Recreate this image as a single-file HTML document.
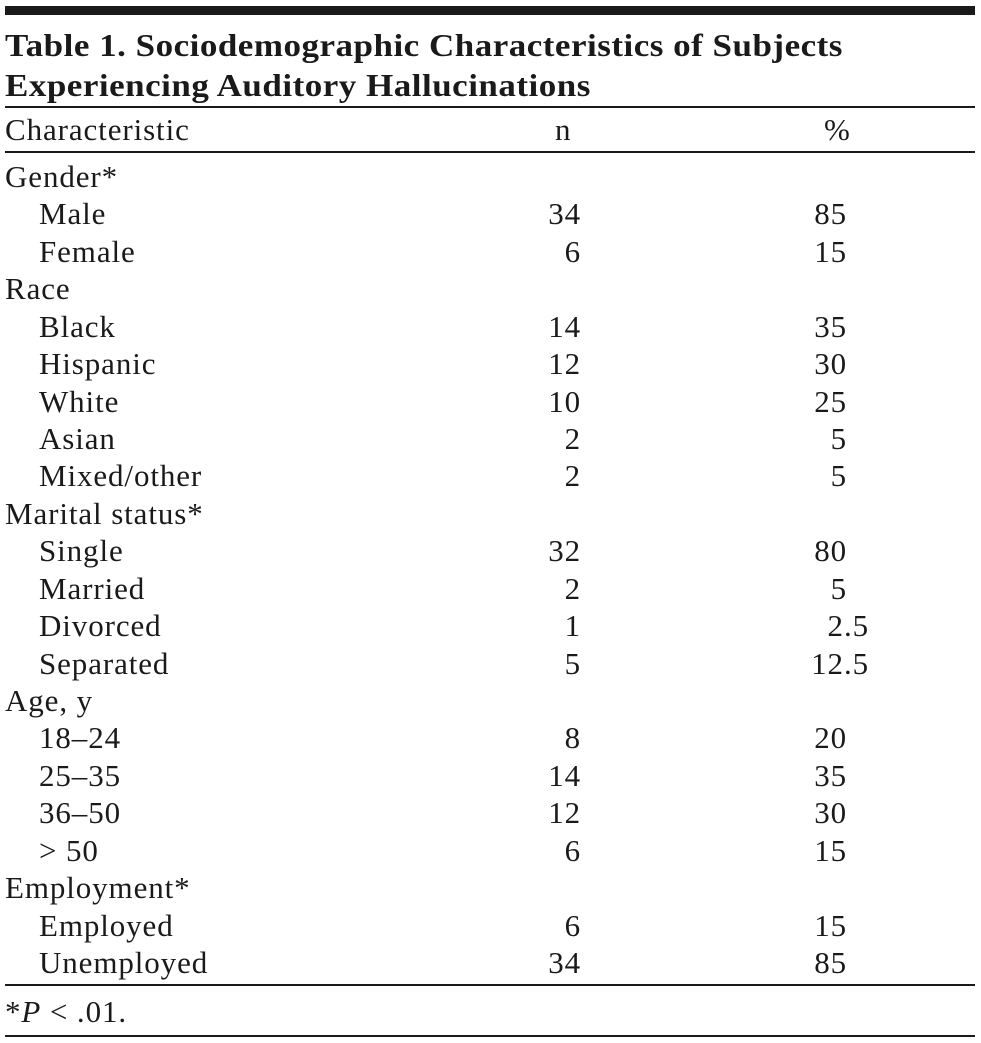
<!DOCTYPE html>
<html><head><meta charset="utf-8"><style>
body{margin:0;background:#fff;width:981px;height:1043px;position:relative;overflow:hidden;font-family:"Liberation Serif",serif;color:#1a1a1a}
.l{position:absolute;left:5px;width:970px;background:#1a1a1a}
.t{position:absolute;left:5px;font-size:35px;font-weight:bold;line-height:40px;white-space:nowrap;letter-spacing:0.5px;transform:scaleY(0.92);transform-origin:left center}
.r{position:absolute;left:0;width:981px;height:37.43px;line-height:37.43px;font-size:31px;letter-spacing:0.9px}
.r span{position:absolute;white-space:nowrap}
.c{left:5px}.s{left:39px}
.n{right:400px}.p{right:134px}.pd{right:112px}
</style></head><body>
<div class="l" style="top:6px;height:9px"></div>
<div class="t" style="top:26px">Table 1. Sociodemographic Characteristics of Subjects</div>
<div class="t" style="top:66px">Experiencing Auditory Hallucinations</div>
<div class="l" style="top:106px;height:2px"></div>
<div class="r" style="top:111px"><span class="c">Characteristic</span><span style="left:555px">n</span><span style="left:824px">%</span></div>
<div class="l" style="top:151px;height:2px"></div>
<div id="b" style="position:absolute;top:158px;left:0">
<div class="r" style="top:0"><span class="c">Gender*</span></div>
<div class="r" style="top:37.43px"><span class="s">Male</span><span class="n">34</span><span class="p">85</span></div>
<div class="r" style="top:74.86px"><span class="s">Female</span><span class="n">6</span><span class="p">15</span></div>
<div class="r" style="top:112.29px"><span class="c">Race</span></div>
<div class="r" style="top:149.72px"><span class="s">Black</span><span class="n">14</span><span class="p">35</span></div>
<div class="r" style="top:187.15px"><span class="s">Hispanic</span><span class="n">12</span><span class="p">30</span></div>
<div class="r" style="top:224.58px"><span class="s">White</span><span class="n">10</span><span class="p">25</span></div>
<div class="r" style="top:262.01px"><span class="s">Asian</span><span class="n">2</span><span class="p">5</span></div>
<div class="r" style="top:299.44px"><span class="s">Mixed/other</span><span class="n">2</span><span class="p">5</span></div>
<div class="r" style="top:336.87px"><span class="c">Marital status*</span></div>
<div class="r" style="top:374.3px"><span class="s">Single</span><span class="n">32</span><span class="p">80</span></div>
<div class="r" style="top:411.73px"><span class="s">Married</span><span class="n">2</span><span class="p">5</span></div>
<div class="r" style="top:449.16px"><span class="s">Divorced</span><span class="n">1</span><span class="pd">2.5</span></div>
<div class="r" style="top:486.59px"><span class="s">Separated</span><span class="n">5</span><span class="pd">12.5</span></div>
<div class="r" style="top:524.02px"><span class="c">Age, y</span></div>
<div class="r" style="top:561.45px"><span class="s">18–24</span><span class="n">8</span><span class="p">20</span></div>
<div class="r" style="top:598.88px"><span class="s">25–35</span><span class="n">14</span><span class="p">35</span></div>
<div class="r" style="top:636.31px"><span class="s">36–50</span><span class="n">12</span><span class="p">30</span></div>
<div class="r" style="top:673.74px"><span class="s">&gt; 50</span><span class="n">6</span><span class="p">15</span></div>
<div class="r" style="top:711.17px"><span class="c">Employment*</span></div>
<div class="r" style="top:748.6px"><span class="s">Employed</span><span class="n">6</span><span class="p">15</span></div>
<div class="r" style="top:786.03px"><span class="s">Unemployed</span><span class="n">34</span><span class="p">85</span></div>
</div>
<div class="l" style="top:984px;height:2px"></div>
<div class="r" style="top:993px"><span class="c">*<i>P</i> &lt; .01.</span></div>
<div class="l" style="top:1035px;height:2px"></div>
</body></html>
